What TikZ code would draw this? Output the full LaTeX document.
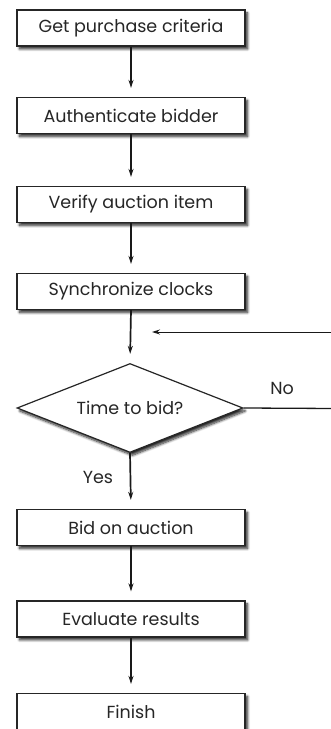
\documentclass[tikz,border=0pt]{standalone}
\usepackage{fontspec}
\setmainfont{Poppins}
\usetikzlibrary{shapes.geometric,arrows.meta,shadows.blur}
\begin{document}
\begin{tikzpicture}[x=1pt,y=1pt,
  shad/.style={blur shadow={shadow xshift=2.5pt,shadow yshift=-3pt,shadow blur radius=2.5pt,shadow opacity=85,shadow blur steps=8}},
  stepbox/.style={draw=black!85,line width=1.2pt,fill=white,minimum width=228pt,minimum height=36pt,inner sep=0pt,
     font=\fontsize{17.5}{20}\selectfont,text=black!85,shad},
  decision/.style={diamond,aspect=2.52,draw=black!85,line width=1.2pt,fill=white,minimum width=226pt,minimum height=89pt,inner sep=0pt,
     font=\fontsize{17.5}{20}\selectfont,text=black!85,shad},
  flow/.style={draw=black!90,line width=1.7pt,-{Stealth[length=8pt,width=5pt]},shorten >=9pt},
  thinflow/.style={draw=black!90,line width=0.9pt,-{Stealth[length=8pt,width=5pt]}},
  lbl/.style={font=\fontsize{17.5}{20}\selectfont,text=black!85}]
\useasboundingbox (0,0) rectangle (331,729);
\node[stepbox] (b1) at (131,729-28) {Get purchase criteria};
\node[stepbox] (b2) at (131,729-115.5) {Authenticate bidder};
\node[stepbox] (b3) at (131,729-204.5) {Verify auction item};
\node[stepbox] (b4) at (131,729-291.5) {Synchronize clocks};
\node[decision] (d) at (130,729-408) {Time to bid?};
\node[stepbox] (b5) at (131,729-527.5) {Bid on auction};
\node[stepbox] (b6) at (131,729-619) {Evaluate results};
\node[stepbox] (b7) at (131,729-711.5) {Finish};
\draw[flow] (b1.south) -- (b2.north);
\draw[flow] (b2.south) -- (b3.north);
\draw[flow] (b3.south) -- (b4.north);
\draw[flow] (b4.south) -- (d.north);
\draw[flow] (d.south) -- (b5.north);
\draw[flow] (b5.south) -- (b6.north);
\draw[flow] (b6.south) -- (b7.north);
\coordinate (loopin) at (333,729-332);
\coordinate (looptip) at (152,729-332);
\coordinate (noend) at (333,729-408.5);
\draw[thinflow] (loopin) -- (looptip);
\draw[draw=black!90,line width=1.3pt] (d.east) -- (noend);
\node[lbl] (no) at (282,729-388) {No};
\node[lbl] (yes) at (98,729-477) {Yes};
\end{tikzpicture}
\end{document}
